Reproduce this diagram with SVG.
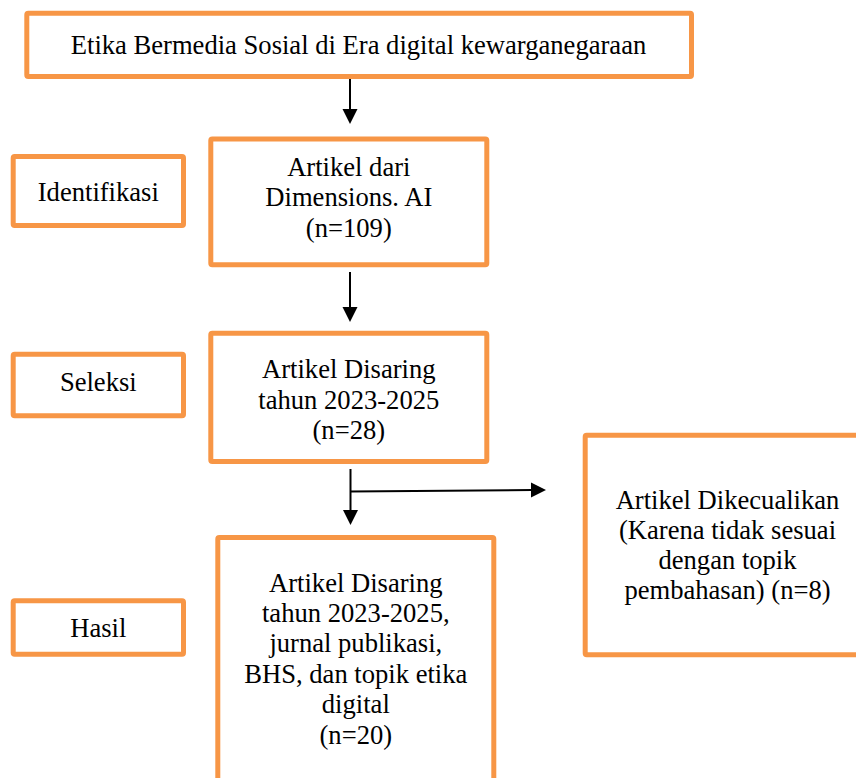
<svg xmlns="http://www.w3.org/2000/svg" width="856" height="778" viewBox="0 0 856 778">
<style>
.box{fill:#ffffff;stroke:#F79646;stroke-width:5;stroke-linejoin:round}
.t{font-family:"Liberation Serif","Times New Roman",serif;font-size:26.6px;fill:#000000;text-anchor:middle}
.ln{stroke:#000000;stroke-width:2;fill:none}
.ah{fill:#000000}
</style>
<rect width="856" height="778" fill="#ffffff"/>
<g id="node-title">
<rect class="box" x="26.8" y="13.2" width="664.7" height="63.3" rx="1.5"/>
<text class="t" x="358.5" y="54.3">Etika Bermedia Sosial di Era digital kewarganegaraan</text>
</g>
<g id="node-identifikasi">
<rect class="box" x="13.2" y="156.5" width="170.3" height="69" rx="1.5"/>
<text class="t" x="98.3" y="200.7">Identifikasi</text>
</g>
<g id="node-artikel-dari">
<rect class="box" x="210.8" y="139" width="276" height="125.8" rx="1.5"/>
<text class="t" x="348.8" y="175.5">Artikel dari</text>
<text class="t" x="348.8" y="206">Dimensions. AI</text>
<text class="t" x="348.8" y="236.5">(n=109)</text>
</g>
<g id="node-seleksi">
<rect class="box" x="13.2" y="354.2" width="170.3" height="61.6" rx="1.5"/>
<text class="t" x="98.3" y="390.7">Seleksi</text>
</g>
<g id="node-disaring">
<rect class="box" x="210.8" y="333.2" width="276" height="128.3" rx="1.5"/>
<text class="t" x="348.8" y="378">Artikel Disaring</text>
<text class="t" x="348.8" y="408.5">tahun 2023-2025</text>
<text class="t" x="348.8" y="439">(n=28)</text>
</g>
<g id="node-dikecualikan">
<rect class="box" x="585.2" y="435.2" width="285" height="219.6" rx="1.5"/>
<text class="t" x="727.5" y="509">Artikel Dikecualikan</text>
<text class="t" x="727.5" y="539">(Karena tidak sesuai</text>
<text class="t" x="727.5" y="569">dengan topik</text>
<text class="t" x="727.5" y="599">pembahasan) (n=8)</text>
</g>
<g id="node-hasil">
<rect class="box" x="13.2" y="600.8" width="170.3" height="53.4" rx="1.5"/>
<text class="t" x="98.3" y="637.3">Hasil</text>
</g>
<g id="node-final">
<rect class="box" x="217.8" y="537.5" width="276" height="260" rx="1.5"/>
<text class="t" x="355.8" y="591.5">Artikel Disaring</text>
<text class="t" x="355.8" y="621.9">tahun 2023-2025,</text>
<text class="t" x="355.8" y="652.3">jurnal publikasi,</text>
<text class="t" x="355.8" y="682.7">BHS, dan topik etika</text>
<text class="t" x="355.8" y="713.1">digital</text>
<text class="t" x="355.8" y="743.5">(n=20)</text>
</g>
<g id="connectors">
<line class="ln" x1="350" y1="79" x2="350" y2="110"/>
<polygon class="ah" points="342.5,109 357.5,109 350,124"/>
<line class="ln" x1="350" y1="272" x2="350" y2="308"/>
<polygon class="ah" points="342.5,307 357.5,307 350,322"/>
<line class="ln" x1="350.5" y1="469" x2="350.5" y2="511"/>
<polygon class="ah" points="343,510 358,510 350.5,525"/>
<line class="ln" x1="350.5" y1="491.5" x2="532" y2="490"/>
<polygon class="ah" points="531,482.5 531,497.5 546,490"/>
</g>
</svg>
